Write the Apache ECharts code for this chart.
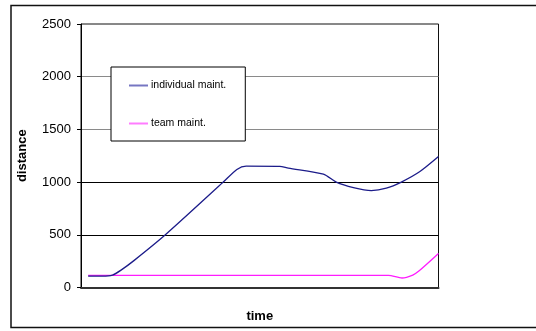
<!DOCTYPE html>
<html>
<head>
<meta charset="utf-8">
<script src="https://cdn.jsdelivr.net/npm/echarts@6/dist/echarts.min.js"></script>
<style>
  html, body { margin: 0; padding: 0; background: #fff; }
  #chart { width: 536px; height: 331px; }
</style>
</head>
<body>
<div id="chart"></div>
<script>
// Distance over time for the two maintenance strategies: [time, distance]
const individualMaint = [
  [1, 108], [3, 108], [4.4, 118], [5.6, 165], [7.4, 255], [11.8, 500],
  [19.9, 1000], [21.8, 1120], [23.1, 1152], [27.8, 1150], [29, 1132],
  [33.9, 1075], [35.7, 1000], [38.1, 948], [40.6, 920], [42.7, 942],
  [44.8, 1000], [47.4, 1100], [50, 1242]
];
const teamMaint = [
  [1, 115], [10, 115], [20, 115], [30, 115], [43, 115], [44.9, 90],
  [46.4, 118], [47.3, 158], [50, 322]
];
const seriesNames = ['individual maint.', 'team maint.'];
const yTicks = { min: 0, max: 2500, step: 500 };
const timeRange = { min: 0, max: 50 };

const FONT = 'Arial, "Liberation Sans", sans-serif';
const chart = echarts.init(document.getElementById('chart'), null, { renderer: 'canvas' });

chart.setOption({
  animation: false,
  backgroundColor: '#fff',
  graphic: [{
    type: 'rect',
    shape: { x: 11, y: 5.5, width: 600, height: 322 },
    style: { fill: 'none', stroke: '#111', lineWidth: 1.5 },
    z: -1
  }],
  grid: {
    left: 81, top: 24, right: 97.5, bottom: 43.5,
    show: true, borderColor: '#111', borderWidth: 1, backgroundColor: 'transparent'
  },
  legend: {
    orient: 'vertical',
    left: 111, top: 67,
    padding: [13, 19, 12, 18],
    itemGap: 27,
    itemWidth: 19, itemHeight: 2,
    icon: 'rect',
    backgroundColor: '#fff',
    borderColor: '#000', borderWidth: 1,
    textStyle: { fontFamily: FONT, fontSize: 10.5, color: '#000', padding: [0, 0, 0, -2] },
    data: [
      { name: seriesNames[0], itemStyle: { color: '#7676c2' } },
      { name: seriesNames[1], itemStyle: { color: '#ff7cff' } }
    ]
  },
  xAxis: {
    type: 'value',
    min: timeRange.min, max: timeRange.max,
    name: 'time',
    nameLocation: 'middle',
    nameGap: 22,
    nameTextStyle: { fontFamily: FONT, fontSize: 13, fontWeight: 'bold', color: '#000' },
    axisLine: { show: true, lineStyle: { color: '#333', width: 2 } },
    axisTick: { show: false },
    axisLabel: { show: false },
    splitLine: { show: false }
  },
  yAxis: {
    type: 'value',
    min: yTicks.min, max: yTicks.max, interval: yTicks.step,
    name: 'distance',
    nameLocation: 'middle',
    nameRotate: 90,
    nameGap: 52,
    nameTextStyle: { fontFamily: FONT, fontSize: 13, fontWeight: 'bold', color: '#000' },
    axisLine: { show: true, lineStyle: { color: '#000', width: 1 } },
    axisTick: { show: true, inside: false, length: 4, lineStyle: { color: '#000' } },
    axisLabel: {
      fontFamily: FONT, fontSize: 13, color: '#000', margin: 10,
      formatter: function (v) { return String(v); }
    },
    splitLine: {
      show: true,
      showMinLine: false, showMaxLine: false,
      lineStyle: { color: ['#000', '#000', '#8a8a8a', '#8a8a8a'], width: 1 }
    }
  },
  series: [
    {
      name: seriesNames[0],
      type: 'line',
      data: individualMaint,
      showSymbol: false,
      smooth: 0.25,
      lineStyle: { color: '#1c1c8a', width: 1.3 },
      itemStyle: { color: '#1c1c8a' },
      z: 3
    },
    {
      name: seriesNames[1],
      type: 'line',
      data: teamMaint,
      showSymbol: false,
      smooth: 0.25,
      lineStyle: { color: '#ff1cff', width: 1.3 },
      itemStyle: { color: '#ff1cff' },
      z: 2
    }
  ]
});
</script>
</body>
</html>
